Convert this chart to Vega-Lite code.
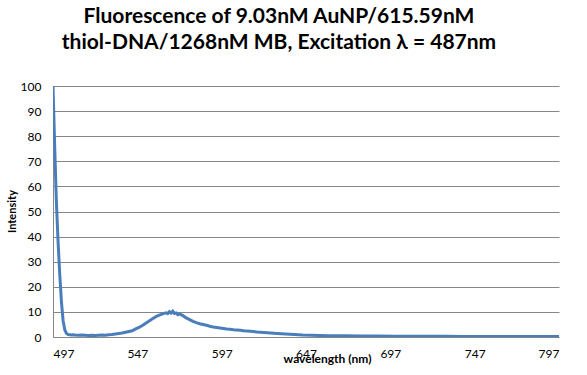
{
  "$schema": "https://vega.github.io/schema/vega-lite/v6.json",
  "width": 506,
  "height": 251,
  "autosize": {"type": "none"},
  "padding": {"left": 53, "top": 86, "right": 28, "bottom": 38},
  "background": "white",
  "title": {
    "text": ["Fluorescence of 9.03nM AuNP/615.59nM", "thiol-DNA/1268nM MB, Excitation λ = 487nm"],
    "font": "Lato",
    "fontSize": 21,
    "fontWeight": "bold",
    "color": "#000000",
    "anchor": "middle",
    "dx": -27,
    "lineHeight": 26,
    "offset": 27
  },
  "config": {
    "view": {"stroke": null},
    "axis": {
      "labelFont": "Lato",
      "labelFontSize": 12,
      "labelColor": "#000000",
      "titleFont": "Lato",
      "titleFontSize": 12,
      "titleFontWeight": "bold",
      "titleColor": "#000000",
      "domainColor": "#868686",
      "gridColor": "#868686",
      "tickColor": "#868686"
    }
  },
  "data": {
    "values": [
      {"w": 497, "v": 100}, {"w": 498, "v": 76}, {"w": 499, "v": 54}, {"w": 500, "v": 38},
      {"w": 501, "v": 25}, {"w": 502, "v": 14}, {"w": 503, "v": 6.5}, {"w": 504, "v": 2.8},
      {"w": 505, "v": 1.4}, {"w": 506, "v": 1.0}, {"w": 507, "v": 0.9}, {"w": 508, "v": 0.8},
      {"w": 509, "v": 0.9}, {"w": 510, "v": 0.8}, {"w": 512, "v": 0.7}, {"w": 514, "v": 0.8},
      {"w": 516, "v": 0.7}, {"w": 518, "v": 0.6}, {"w": 520, "v": 0.7}, {"w": 522, "v": 0.6},
      {"w": 524, "v": 0.7}, {"w": 526, "v": 0.8}, {"w": 528, "v": 0.7}, {"w": 530, "v": 0.9},
      {"w": 532, "v": 1.0}, {"w": 534, "v": 1.2}, {"w": 536, "v": 1.4}, {"w": 538, "v": 1.6},
      {"w": 540, "v": 1.9}, {"w": 542, "v": 2.2}, {"w": 544, "v": 2.5}, {"w": 546, "v": 3.2},
      {"w": 548, "v": 3.8}, {"w": 550, "v": 4.6}, {"w": 552, "v": 5.5}, {"w": 554, "v": 6.4},
      {"w": 556, "v": 7.3}, {"w": 558, "v": 8.1}, {"w": 560, "v": 8.7}, {"w": 562, "v": 9.2},
      {"w": 564, "v": 9.6}, {"w": 565, "v": 9.3}, {"w": 566, "v": 10.1}, {"w": 567, "v": 9.5},
      {"w": 568, "v": 10.3}, {"w": 569, "v": 9.4}, {"w": 570, "v": 9.6}, {"w": 571, "v": 8.9},
      {"w": 572, "v": 9.2}, {"w": 574, "v": 8.5}, {"w": 576, "v": 7.6}, {"w": 578, "v": 6.9},
      {"w": 580, "v": 6.2}, {"w": 582, "v": 5.7}, {"w": 584, "v": 5.3}, {"w": 586, "v": 5.0},
      {"w": 588, "v": 4.7}, {"w": 590, "v": 4.3}, {"w": 592, "v": 4.0}, {"w": 594, "v": 3.8},
      {"w": 596, "v": 3.6}, {"w": 598, "v": 3.4}, {"w": 600, "v": 3.2}, {"w": 602, "v": 3.1},
      {"w": 604, "v": 2.9}, {"w": 606, "v": 2.8}, {"w": 608, "v": 2.7}, {"w": 610, "v": 2.5},
      {"w": 614, "v": 2.3}, {"w": 618, "v": 2.0}, {"w": 622, "v": 1.8}, {"w": 626, "v": 1.6},
      {"w": 630, "v": 1.4}, {"w": 635, "v": 1.2}, {"w": 640, "v": 1.0}, {"w": 645, "v": 0.8},
      {"w": 650, "v": 0.7}, {"w": 655, "v": 0.6}, {"w": 660, "v": 0.5}, {"w": 670, "v": 0.45},
      {"w": 680, "v": 0.4}, {"w": 690, "v": 0.35}, {"w": 700, "v": 0.3}, {"w": 710, "v": 0.3},
      {"w": 720, "v": 0.25}, {"w": 730, "v": 0.25}, {"w": 740, "v": 0.2}, {"w": 750, "v": 0.2},
      {"w": 760, "v": 0.2}, {"w": 770, "v": 0.2}, {"w": 780, "v": 0.2}, {"w": 790, "v": 0.2},
      {"w": 797, "v": 0.2}
    ]
  },
  "mark": {"type": "line", "color": "#4a7ebb", "strokeWidth": 3, "clip": true},
  "encoding": {
    "x": {
      "field": "w",
      "type": "quantitative",
      "scale": {"domain": [497, 797], "nice": false, "zero": false},
      "axis": {
        "values": [497, 547, 597, 647, 697, 747, 797],
        "grid": false,
        "ticks": false,
        "labelPadding": 11,
        "title": "wavelength (nm)",
        "titleX": 274,
        "titleY": 25,
        "titleAlign": "center",
        "titleBaseline": "alphabetic",
        "titleAnchor": null
      }
    },
    "y": {
      "field": "v",
      "type": "quantitative",
      "scale": {"domain": [0, 100], "nice": false},
      "axis": {
        "values": [0, 10, 20, 30, 40, 50, 60, 70, 80, 90, 100],
        "grid": true,
        "ticks": false,
        "labelPadding": 12,
        "title": "Intensity",
        "titleX": -38,
        "titleY": 125,
        "titleAngle": -90,
        "titleAlign": "center",
        "titleBaseline": "alphabetic",
        "titleFontSize": 11
      }
    }
  }
}
